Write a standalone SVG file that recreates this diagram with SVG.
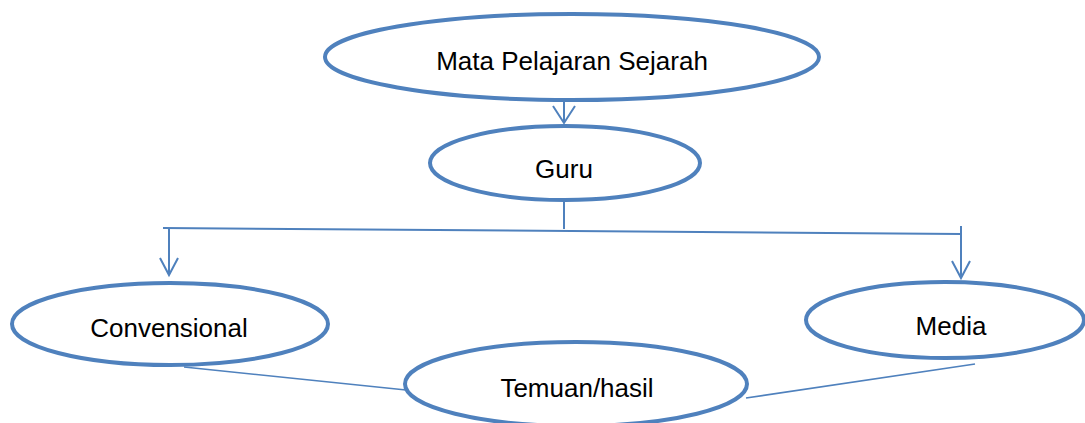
<svg xmlns="http://www.w3.org/2000/svg" width="1085" height="423" viewBox="0 0 1085 423">
  <style>
    .node { fill: #ffffff; stroke: #4F81BD; stroke-width: 4; }
    .label { font-family: "Liberation Sans", Arial, sans-serif; font-size: 26px; fill: #000000; text-anchor: middle; }
    .link { fill: none; stroke: #4F81BD; stroke-width: 2; }
    .thin { fill: none; stroke: #4F81BD; stroke-width: 1.6; }
  </style>
  <rect width="1085" height="423" fill="#ffffff"/>

  <g id="connectors">
    <!-- Mata Pelajaran Sejarah -> Guru -->
    <path class="link" d="M564 90 V123 M553 106 L564 123 L575 106"/>
    <!-- Guru stem and branch bar -->
    <path class="link" d="M564 200 V229"/>
    <path class="link" d="M163 228 L961 234"/>
    <!-- branch -> Convensional -->
    <path class="link" d="M169 228 V275 M160 258 L169 275 L178 258"/>
    <!-- branch -> Media -->
    <path class="link" d="M961 226 V278 M952 261 L961 278 L970 261"/>
    <!-- Convensional / Media -> Temuan/hasil -->
    <path class="thin" d="M184 367 L406 390"/>
    <path class="thin" d="M746 398 L975 364"/>
  </g>

  <g id="node-mata-pelajaran">
    <ellipse class="node" cx="572" cy="57" rx="247" ry="43"/>
    <text class="label" x="572" y="70">Mata Pelajaran Sejarah</text>
  </g>

  <g id="node-guru">
    <ellipse class="node" cx="565" cy="163" rx="135" ry="37"/>
    <text class="label" x="564" y="178">Guru</text>
  </g>

  <g id="node-convensional">
    <ellipse class="node" cx="170" cy="324" rx="158" ry="41"/>
    <text class="label" x="169" y="337">Convensional</text>
  </g>

  <g id="node-media">
    <ellipse class="node" cx="945" cy="320" rx="139" ry="38"/>
    <text class="label" x="951" y="335">Media</text>
  </g>

  <g id="node-temuan">
    <ellipse class="node" cx="576" cy="384" rx="171" ry="42"/>
    <text class="label" x="577" y="397">Temuan/hasil</text>
  </g>
</svg>
